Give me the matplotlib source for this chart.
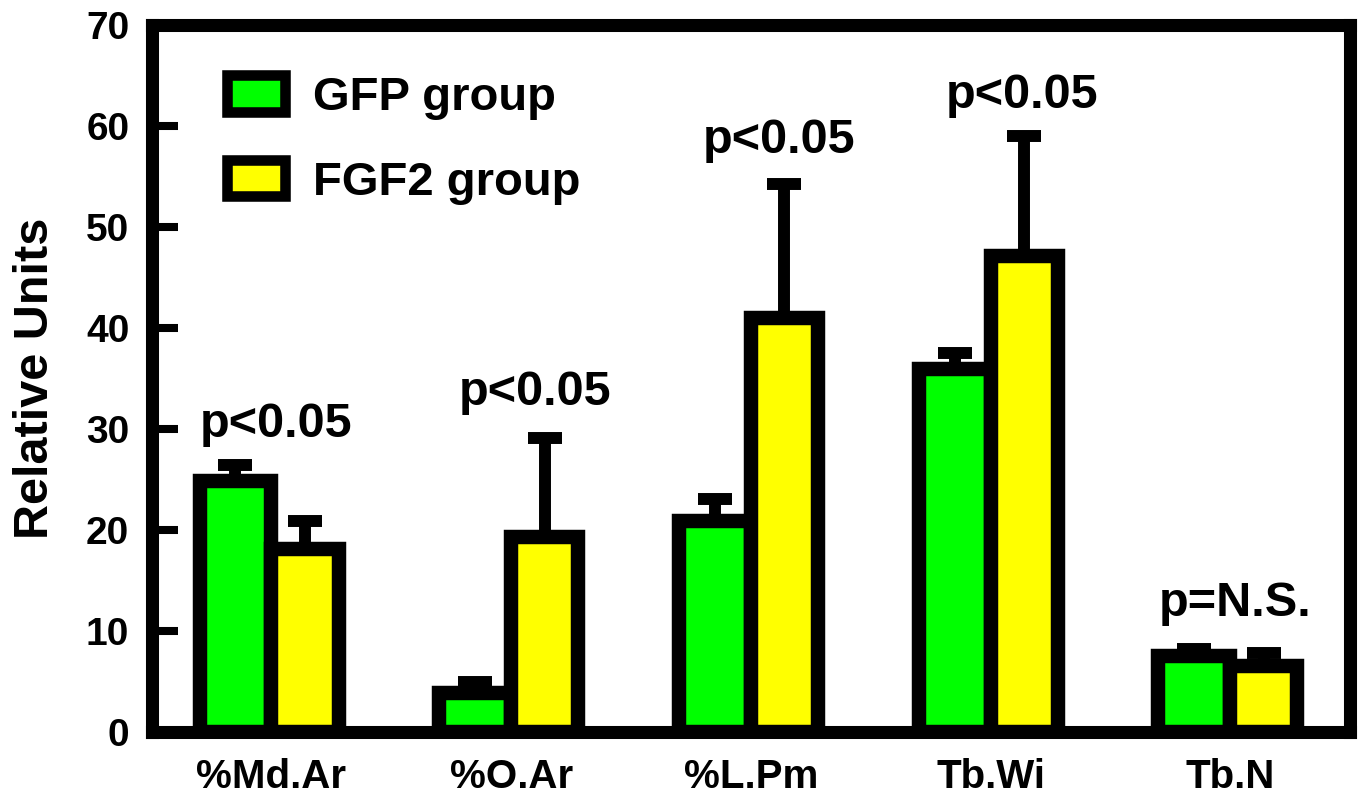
import matplotlib.pyplot as plt
import numpy as np
from matplotlib.patches import Patch

plt.rcParams["font.family"] = ["Liberation Sans", "DejaVu Sans"]
plt.rcParams["font.weight"] = "bold"

categories = ["%Md.Ar", "%O.Ar", "%L.Pm", "Tb.Wi", "Tb.N"]
gfp_mean = [24.8, 3.8, 20.9, 35.9, 7.5]
gfp_err = [1.6, 1.1, 2.2, 1.6, 0.7]
fgf2_mean = [18.1, 19.3, 41.0, 47.1, 6.5]
fgf2_err = [2.8, 9.8, 13.3, 11.9, 1.3]
p_labels = ["p<0.05", "p<0.05", "p<0.05", "p<0.05", "p=N.S."]
# where each p label sits (x offset from group centre, baseline y)
p_label_pos = [(0.02, 29.2), (0.10, 32.4), (0.12, 57.3), (0.13, 61.8), (0.02, 11.5)]

GREEN = "#00ff00"
YELLOW = "#ffff00"
w_gfp = 0.30
w_fgf2 = 0.28

fig = plt.figure(figsize=(13.63, 7.95), dpi=100)
ax = fig.add_axes([0.1112, 0.0797, 0.8793, 0.8885])

x = np.arange(len(categories))
ax.bar(x - w_gfp / 2, gfp_mean, w_gfp, color=GREEN, edgecolor="black",
       linewidth=10.4, zorder=2)
ax.bar(x + w_fgf2 / 2, fgf2_mean, w_fgf2, color=YELLOW, edgecolor="black",
       linewidth=10.4, zorder=2)

zeros = np.zeros(len(categories))
ax.errorbar(x - w_gfp / 2, gfp_mean, yerr=[zeros, gfp_err], fmt="none",
            ecolor="black", elinewidth=8.6, capsize=12, capthick=8.6, zorder=3)
ax.errorbar(x + w_fgf2 / 2, fgf2_mean, yerr=[zeros, fgf2_err], fmt="none",
            ecolor="black", elinewidth=8.6, capsize=12, capthick=8.6, zorder=3)

for i, (lab, (dx, y)) in enumerate(zip(p_labels, p_label_pos)):
    ax.text(i + dx, y, lab, ha="center", va="baseline", fontsize=35,
            fontweight="bold")

ax.set_xlim(-0.5, len(categories) - 0.5)
ax.set_ylim(0, 70)
ax.set_yticks(range(0, 71, 10))
ax.set_xticks(x)
ax.set_xticklabels(categories)

for s in ax.spines.values():
    s.set_linewidth(9.4)
ax.tick_params(axis="y", direction="in", length=18.4, width=5.8, pad=16,
               labelsize=28)
ax.tick_params(axis="x", length=0, pad=19, labelsize=29)
ax.set_ylabel("Relative Units", fontsize=35, fontweight="bold", labelpad=20)

handles = [
    Patch(facecolor=GREEN, edgecolor="black", linewidth=7.6, label="GFP group"),
    Patch(facecolor=YELLOW, edgecolor="black", linewidth=7.6, label="FGF2 group"),
]
ax.legend(handles=handles, loc="upper left", bbox_to_anchor=(0.063, 0.929),
          frameon=False, fontsize=34, borderpad=0, borderaxespad=0,
          handlelength=1.23, handleheight=0.8, handletextpad=0.6,
          labelspacing=0.85)

fig.savefig("out.png", dpi=100)
